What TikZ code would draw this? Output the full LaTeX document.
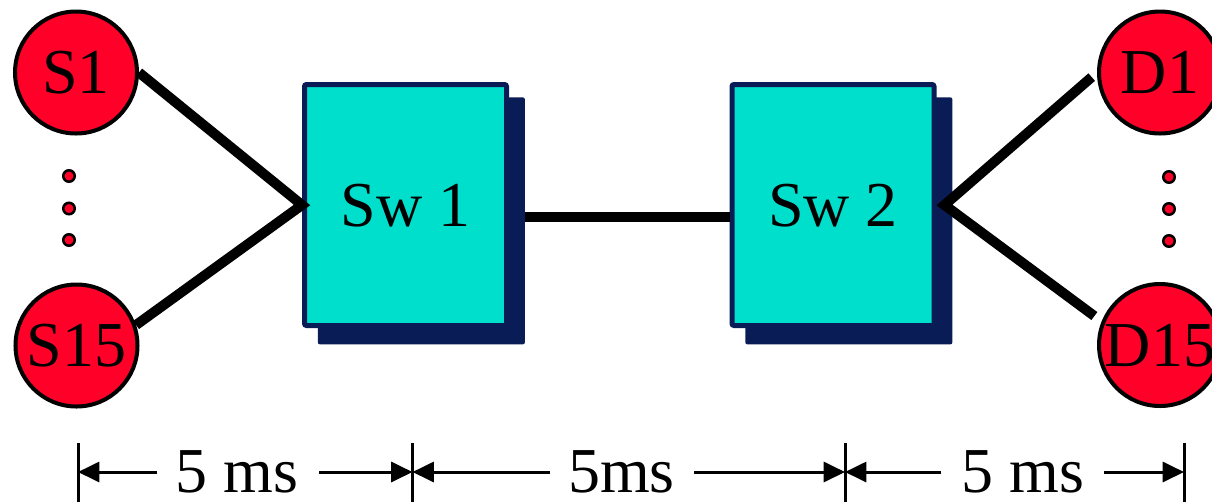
\documentclass[tikz,border=0pt]{standalone}
\usepackage{fontspec}
\setmainfont{Liberation Serif}
\usetikzlibrary{arrows.meta,shadows,calc}
\definecolor{hostred}{RGB}{255,0,40}
\definecolor{switchcyan}{RGB}{0,222,204}
\definecolor{switchnavy}{RGB}{10,28,86}

\begin{document}
\begin{tikzpicture}[x=0.75pt,y=-0.75pt,
  bigtext/.style={font=\fontsize{48pt}{48pt}\selectfont, text height=32pt, text depth=0pt},
  hostnode/.style={circle, draw=black, line width=3pt, fill=hostred,
    minimum size=91.5pt, inner sep=0pt, bigtext},
  dotnode/.style={circle, draw=black, line width=1.9pt, fill=hostred,
    minimum size=8.6pt, inner sep=0pt},
  switchbox/.style={rectangle, draw=switchnavy, line width=3.75pt, fill=switchcyan,
    rounded corners=1.5pt, minimum width=151.5pt, minimum height=180.75pt,
    inner sep=0pt, bigtext,
    drop shadow={shadow xshift=11.6pt, shadow yshift=-11.6pt, shadow scale=1.025,
      fill=switchnavy, opacity=1}},
  linkline/.style={line width=7.5pt, draw=black},
  dimtick/.style={line width=2.25pt},
  dimarrow/.style={line width=2.25pt, -{Triangle[length=16pt,width=15pt]}},
  dimlabel/.style={font=\fontsize{48pt}{48pt}\selectfont, text depth=0pt,
    inner sep=0pt, anchor=base}
]
\useasboundingbox (0,0) rectangle (1212,501);
\clip (0,0) rectangle (1212,501);

% sources and destinations
\node[hostnode] (S1)  at (76,72.5)   {S1};
\node[hostnode] (S15) at (76.5,345.5) {S15};
\node[hostnode] (D1)  at (1160,72.5)  {D1};
\node[hostnode] (D15) at (1160,345)   {D15};

% ellipsis dots between the hosts
\node[dotnode] (sdot1) at (69,176) {};
\node[dotnode] (sdot2) at (69,208.5) {};
\node[dotnode] (sdot3) at (69,240) {};
\node[dotnode] (ddot1) at (1169,177) {};
\node[dotnode] (ddot2) at (1169,209) {};
\node[dotnode] (ddot3) at (1169,241) {};

% switches
\node[switchbox] (sw1) at (405.5,205) {Sw 1};
\node[switchbox] (sw2) at (833,205)   {Sw 2};

% links
\draw[linkline] (S1.east) -- (sw1.west) -- (S15.19);
\draw[linkline, shorten <=5.25pt, shorten >=6.75pt]
  (D1.west) -- ([xshift=6pt]sw2.east) -- (D15.158);
\draw[linkline, shorten <=12pt] ([yshift=-9pt]sw1.east) -- ([yshift=-9pt]sw2.west);

% delay dimensions
\coordinate (row) at (0,472);
\coordinate (bottom) at (0,503);
\coordinate (t1) at (78,443);
\coordinate (t2) at (412.5,443);
\coordinate (t3) at (845,443);
\coordinate (t4) at (1184,443);
\foreach \t in {t1,t2,t3,t4} \draw[dimtick] (\t) -- (\t |- bottom);

\node[dimlabel] (L1) at (237,492)  {5 ms};
\node[dimlabel] (L2) at (621.5,492) {5ms};
\node[dimlabel] (L3) at (1023,492) {5 ms};

\coordinate (a1l) at (157,472);
\coordinate (a1r) at (319,472);
\coordinate (a2l) at (550,472);
\coordinate (a2r) at (694,472);
\coordinate (a3l) at (941,472);
\coordinate (a3r) at (1104,472);

\draw[dimarrow] (a1l) -- (t1 |- row);
\draw[dimarrow] (a1r) -- (t2 |- row);
\draw[dimarrow] (a2l) -- (t2 |- row);
\draw[dimarrow] (a2r) -- (t3 |- row);
\draw[dimarrow] (a3l) -- (t3 |- row);
\draw[dimarrow] (a3r) -- (t4 |- row);
\end{tikzpicture}
\end{document}
